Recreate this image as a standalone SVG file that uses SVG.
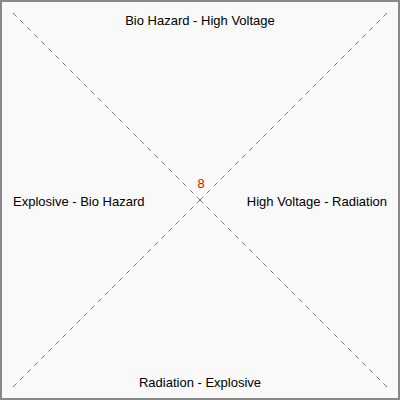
<svg xmlns="http://www.w3.org/2000/svg" width="400" height="400" viewBox="0 0 400 400">
<style>
.lbl{font-family:"Liberation Sans",Arial,sans-serif;font-size:13px;fill:#000}
.d{stroke:#555;stroke-width:0.8;stroke-dasharray:5,5;fill:none}
</style>
<rect x="1" y="1" width="398" height="398" fill="#f9f9f9" stroke="#888" stroke-width="2"/>
<g id="connectors">
<path class="d" d="M13,13 L200,200"/>
<path class="d" d="M387,13 L200,200"/>
<path class="d" d="M13,387 L200,200"/>
<path class="d" d="M387,387 L200,200"/>
</g>
<g id="top"><text class="lbl" x="200" y="25" text-anchor="middle">Bio Hazard - High Voltage</text></g>
<g id="bottom"><text class="lbl" x="200" y="387" text-anchor="middle">Radiation - Explosive</text></g>
<g id="left"><text class="lbl" x="13" y="206">Explosive - Bio Hazard</text></g>
<g id="right"><text class="lbl" x="387" y="206" text-anchor="end">High Voltage - Radiation</text></g>
<g id="center"><text class="lbl" x="201" y="188" text-anchor="middle" style="fill:#f00">8</text></g>
</svg>
